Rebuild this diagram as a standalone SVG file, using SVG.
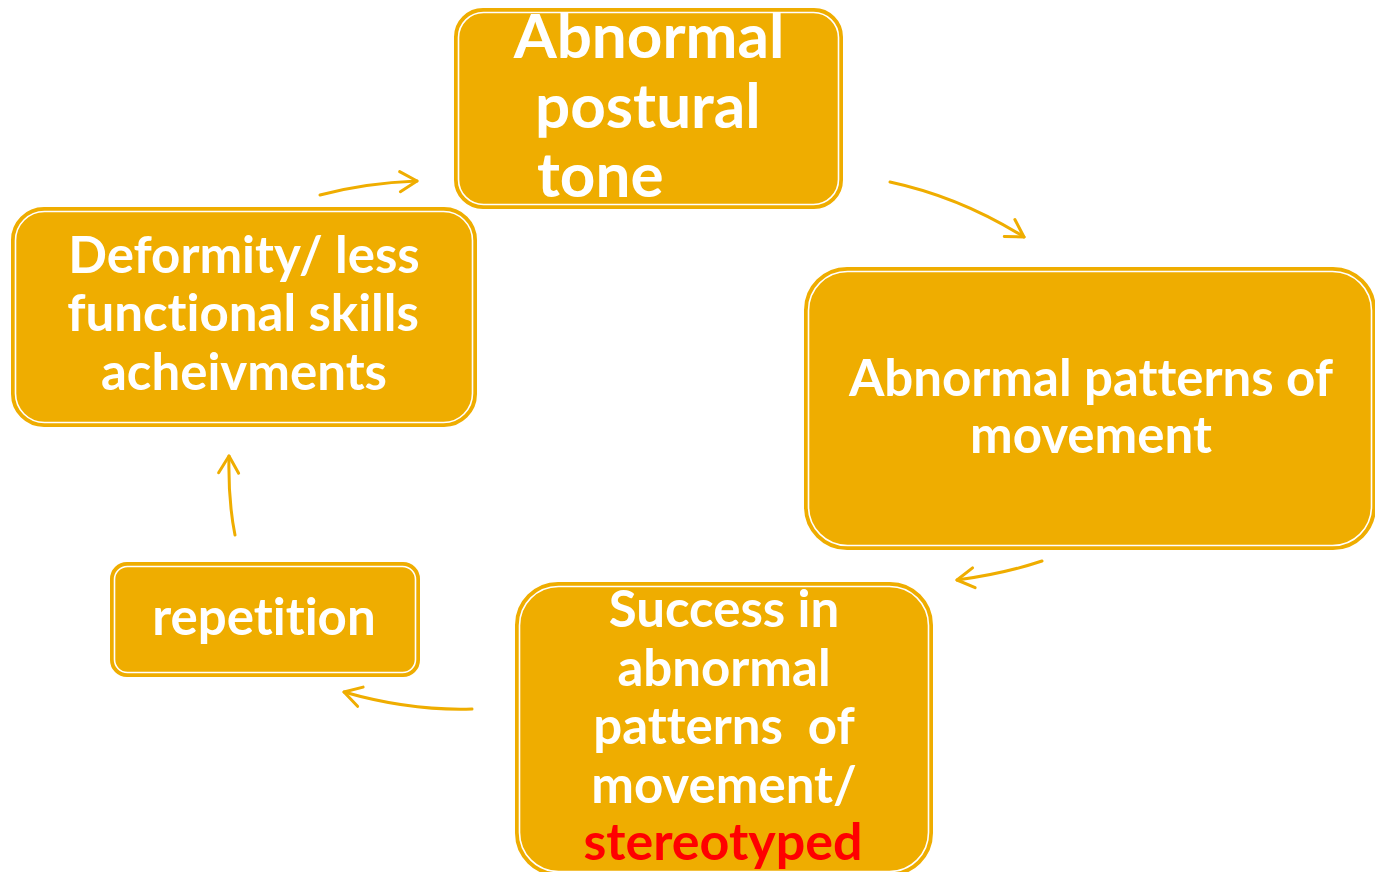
<svg xmlns="http://www.w3.org/2000/svg" width="1375" height="872" viewBox="0 0 1375 872">
<style>
.outer{fill:#EFAD00;stroke:#EFAD00;stroke-width:2}
.inner{fill:none;stroke:#FFFFFF;stroke-width:1.6}
.t{font-family:Lato,"Open Sans",sans-serif;font-weight:700;fill:#FFFFFF;text-anchor:middle;font-variant-ligatures:none;font-feature-settings:"liga" 0}
.c{fill:none;stroke:#EFAD00;stroke-width:3;stroke-linecap:round}
</style>
<defs>
<marker id="ah" markerUnits="userSpaceOnUse" viewBox="-22 -14 26 28" markerWidth="26" markerHeight="28" refX="0" refY="0" orient="auto">
<path d="M-17,-10 L0,0 L-17,10" fill="none" stroke="#EFAD00" stroke-width="3" stroke-linecap="round" stroke-linejoin="round"/>
</marker>
</defs>
<rect width="1375" height="872" fill="#FFFFFF"/>
<g id="connectors">
<path class="c" d="M320,195 Q365,183 417,181" marker-end="url(#ah)"/>
<path class="c" d="M890,182 Q960,197 1024,237" marker-end="url(#ah)"/>
<path class="c" d="M1042,561 Q1003,574 957,580" marker-end="url(#ah)"/>
<path class="c" d="M472,709 Q410,711 344,692" marker-end="url(#ah)"/>
<path class="c" d="M235,535 Q228,500 229,456" marker-end="url(#ah)"/>
</g>
<g id="node-tone">
<rect class="outer" x="455" y="9" width="387" height="199" rx="28"/>
<rect class="inner" x="458.5" y="12.5" width="380" height="192" rx="25"/>
<text class="t" style="font-size:62px" x="649" y="58">Abnormal</text>
<text class="t" style="font-size:62px;text-anchor:start" x="535" y="128">postural</text>
<text class="t" style="font-size:62px;text-anchor:start" x="537" y="197">tone</text>
</g>
<g id="node-patterns">
<rect class="outer" x="805" y="268" width="570" height="281" rx="42"/>
<rect class="inner" x="808.5" y="271.5" width="563" height="274" rx="39"/>
<text class="t" style="font-size:51px" x="1091" y="396">Abnormal patterns of</text>
<text class="t" style="font-size:51px" x="1091" y="453">movement</text>
</g>
<g id="node-success">
<rect class="outer" x="516" y="583" width="416" height="292" rx="42"/>
<rect class="inner" x="519.5" y="586.5" width="409" height="285" rx="39"/>
<text class="t" style="font-size:51px" x="724" y="627">Success in</text>
<text class="t" style="font-size:51px" x="724" y="686">abnormal</text>
<text class="t" style="font-size:51px" x="724" y="744" xml:space="preserve">patterns  of</text>
<text class="t" style="font-size:51px" x="724" y="803">movement/</text>
<text class="t" style="font-size:52px;fill:#FF0000" x="723" y="860">stereotyped</text>
</g>
<g id="node-repetition">
<rect class="outer" x="111" y="563" width="308" height="113" rx="16"/>
<rect class="inner" x="114.5" y="566.5" width="301" height="106" rx="13"/>
<text class="t" style="font-size:51px" x="264" y="635">repetition</text>
</g>
<g id="node-deformity">
<rect class="outer" x="12" y="208" width="464" height="218" rx="32"/>
<rect class="inner" x="15.5" y="211.5" width="457" height="211" rx="29"/>
<text class="t" style="font-size:51px" x="244" y="273">Deformity/ less</text>
<text class="t" style="font-size:51px" x="243" y="331">functional skills</text>
<text class="t" style="font-size:51px" x="244" y="390">acheivments</text>
</g>
</svg>
